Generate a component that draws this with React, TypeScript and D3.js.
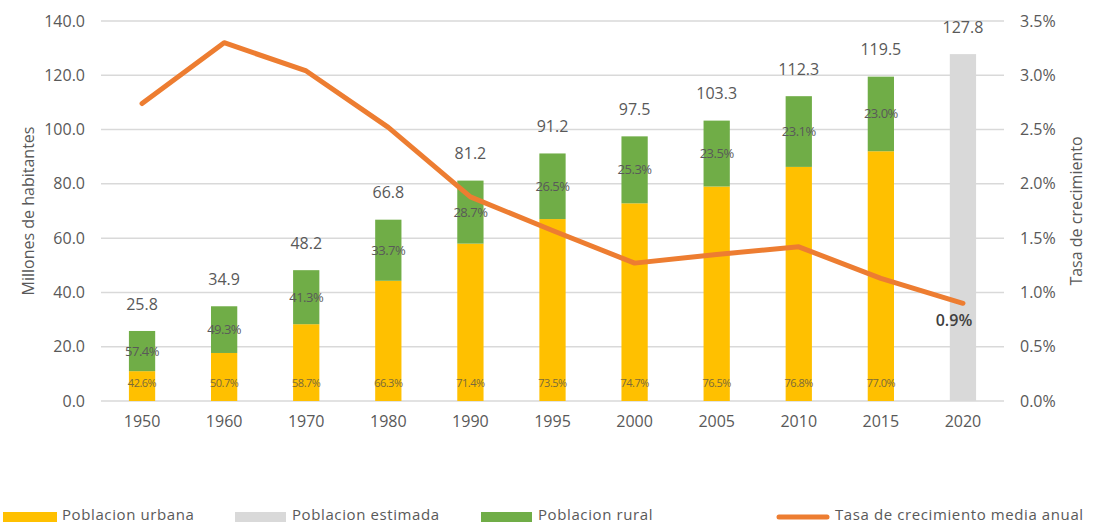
import React from "react";
import * as d3 from "d3";

const years = ["1950", "1960", "1970", "1980", "1990", "1995", "2000", "2005", "2010", "2015", "2020"];
const totals = [25.8, 34.9, 48.2, 66.8, 81.2, 91.2, 97.5, 103.3, 112.3, 119.5, 127.8];
const urbanPct = [42.6, 50.7, 58.7, 66.3, 71.4, 73.5, 74.7, 76.5, 76.8, 77.0, null];
const ruralPct = [57.4, 49.3, 41.3, 33.7, 28.7, 26.5, 25.3, 23.5, 23.1, 23.0, null];
const estimated = [false, false, false, false, false, false, false, false, false, false, true];
const growth = [2.74, 3.30, 3.04, 2.52, 1.88, 1.57, 1.27, 1.35, 1.42, 1.13, 0.90];
const leftTicks = [0, 20, 40, 60, 80, 100, 120, 140];
const rightTicks = [0, 0.5, 1, 1.5, 2, 2.5, 3, 3.5];

const W = 1100, H = 525;
const m = { left: 101, right: 1004, top: 21, bottom: 401 };
const font = "'Open Sans', 'DejaVu Sans', sans-serif";
const txt = "#595959";

export default function App() {
  const x = d3.scaleBand().domain(years).range([m.left, m.right]).paddingInner(0.68).paddingOuter(0.34);
  const y = d3.scaleLinear().domain([0, 140]).range([m.bottom, m.top]);
  const y2 = d3.scaleLinear().domain([0, 3.5]).range([m.bottom, m.top]);
  const cx = (yr: string) => (x(yr) as number) + x.bandwidth() / 2;
  const line = d3.line<number>().x((_, i) => cx(years[i])).y((d) => y2(d));
  const bw = x.bandwidth();
  const lastI = years.length - 1;

  return (
    <svg width={W} height={H} style={{ position: "absolute", left: 0, top: 0, background: "#fff" }} fontFamily={font}>
      {leftTicks.map((t) => (
        <line key={"g" + t} x1={m.left} x2={m.right} y1={y(t)} y2={y(t)} stroke="#d9d9d9" strokeWidth={1.5} />
      ))}
      {leftTicks.map((t) => (
        <text key={"l" + t} x={85} y={y(t)} dy="0.35em" textAnchor="end" fontSize={16} fill={txt}>
          {d3.format(".1f")(t)}
        </text>
      ))}
      {rightTicks.map((t) => (
        <text key={"r" + t} x={1020} y={y2(t)} dy="0.35em" textAnchor="start" fontSize={16} fill={txt}>
          {d3.format(".1f")(t) + "%"}
        </text>
      ))}
      <text transform={`translate(34,${(m.top + m.bottom) / 2}) rotate(-90)`} textAnchor="middle" fontSize={16} fill={txt}>
        Millones de habitantes
      </text>
      <text transform={`translate(1082,${(m.top + m.bottom) / 2}) rotate(-90)`} textAnchor="middle" fontSize={16} fill={txt}>
        Tasa de crecimiento
      </text>
      {years.map((yr) => (
        <text key={"x" + yr} x={cx(yr)} y={421} dy="0.35em" textAnchor="middle" fontSize={16} fill={txt}>
          {yr}
        </text>
      ))}
      {years.map((yr, i) => {
        const total = totals[i];
        const xb = x(yr) as number;
        if (estimated[i]) {
          return (
            <g key={"b" + yr}>
              <rect x={xb} width={bw} y={y(total)} height={y(0) - y(total)} fill="#d9d9d9" />
              <text x={cx(yr)} y={y(total) - 27} dy="0.35em" textAnchor="middle" fontSize={16} fill={txt}>
                {total.toFixed(1)}
              </text>
            </g>
          );
        }
        const urban = (total * (urbanPct[i] as number)) / 100;
        return (
          <g key={"b" + yr}>
            <rect x={xb} width={bw} y={y(urban)} height={y(0) - y(urban)} fill="#ffc000" />
            <rect x={xb} width={bw} y={y(total)} height={y(urban) - y(total)} fill="#70ad47" />
            <text x={cx(yr)} y={y(total) - 27} dy="0.35em" textAnchor="middle" fontSize={16} fill={txt}>
              {total.toFixed(1)}
            </text>
            <text x={cx(yr)} y={(y(total) + y(urban)) / 2} dy="0.35em" textAnchor="middle" fontSize={13} fill={txt} letterSpacing={-0.5}>
              {(ruralPct[i] as number).toFixed(1) + "%"}
            </text>
            <text x={cx(yr)} y={383} dy="0.35em" textAnchor="middle" fontSize={11} fill="#7a6a3a" letterSpacing={-0.5}>
              {(urbanPct[i] as number).toFixed(1) + "%"}
            </text>
          </g>
        );
      })}
      <path d={line(growth) as string} fill="none" stroke="#ed7d31" strokeWidth={5} strokeLinecap="round" strokeLinejoin="round" />
      <text x={cx(years[lastI]) - 9} y={y2(growth[lastI]) + 17} dy="0.35em" textAnchor="middle" fontSize={16} fontWeight={600} fill="#404040">
        {growth[lastI].toFixed(1) + "%"}
      </text>
      {/* Legend */}
      <g fontSize={15} fill={txt} letterSpacing={0.6}>
        <rect x={3} y={512} width={54} height={10} fill="#ffc000" />
        <text x={62} y={515} dy="0.35em">Poblacion urbana</text>
        <rect x={235} y={512} width={51} height={10} fill="#d9d9d9" />
        <text x={292} y={515} dy="0.35em">Poblacion estimada</text>
        <rect x={481} y={512} width={51} height={10} fill="#70ad47" />
        <text x={538} y={515} dy="0.35em">Poblacion rural</text>
        <line x1={779} x2={827} y1={517} y2={517} stroke="#ed7d31" strokeWidth={5} strokeLinecap="round" />
        <text x={835} y={515} dy="0.35em">Tasa de crecimiento media anual</text>
      </g>
    </svg>
  );
}
